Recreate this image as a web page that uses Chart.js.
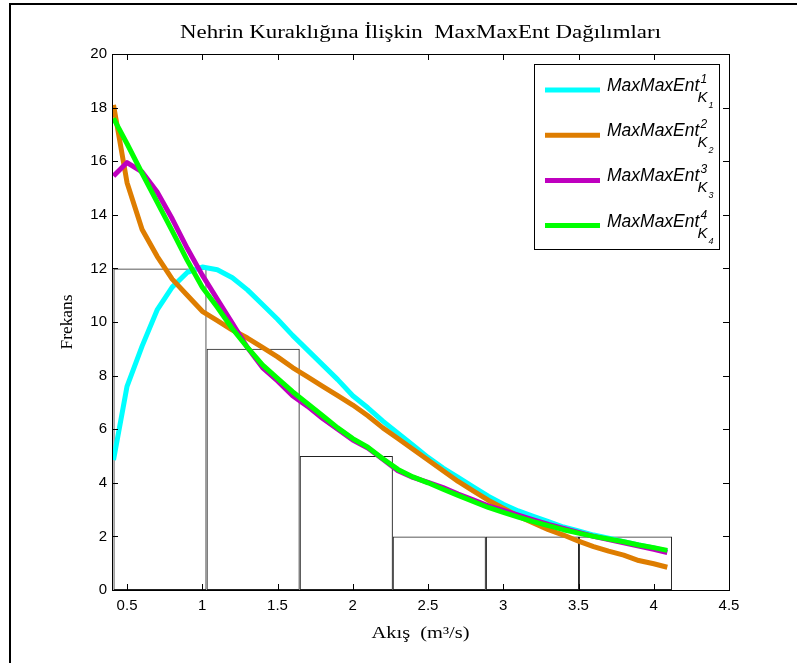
<!DOCTYPE html>
<html><head><meta charset="utf-8">
<script src="https://cdn.jsdelivr.net/npm/chart.js@4.4.0/dist/chart.umd.min.js"></script>
<style>
html,body{margin:0;padding:0;background:#fff;}
#wrap{position:relative;width:797px;height:663px;overflow:hidden;background:#fff;}
#frame{position:absolute;left:9px;top:3px;width:900px;height:800px;border-left:2px solid #000;border-top:2px solid #000;}
canvas{position:absolute;left:0;top:0;}
</style></head><body>
<div id="wrap"><div id="frame"></div><canvas id="c" width="797" height="663"></canvas></div>
<script>
// ---- data ----
const xValues = [0.41,0.5,0.6,0.7,0.8,0.9,1.0,1.1,1.2,1.3,1.4,1.5,1.6,1.7,1.8,1.9,2.0,2.1,2.2,2.3,2.4,2.5,2.6,2.7,2.8,2.9,3.0,3.1,3.2,3.3,3.4,3.5,3.6,3.7,3.8,3.9,4.0,4.09];
const k1Values = [4.85,7.6,9.1,10.45,11.3,11.85,12.05,11.95,11.65,11.2,10.65,10.1,9.5,8.95,8.4,7.85,7.25,6.8,6.3,5.85,5.4,4.95,4.55,4.2,3.85,3.5,3.2,2.95,2.75,2.55,2.35,2.2,2.05,1.93,1.8,1.68,1.57,1.45];
const k2Values = [18.1,15.2,13.45,12.45,11.6,11.0,10.4,10.05,9.7,9.4,9.05,8.7,8.3,7.95,7.6,7.25,6.9,6.5,6.05,5.65,5.25,4.85,4.45,4.05,3.7,3.35,3.05,2.75,2.5,2.25,2.05,1.82,1.62,1.45,1.3,1.1,0.98,0.85];
const k3Values = [15.45,15.95,15.6,14.85,13.85,12.75,11.75,10.85,9.95,9.05,8.3,7.8,7.25,6.85,6.4,6.0,5.6,5.3,4.88,4.45,4.2,4.02,3.82,3.58,3.36,3.14,2.97,2.79,2.62,2.45,2.3,2.15,2.0,1.88,1.76,1.64,1.52,1.4];
const k4Values = [17.6,16.65,15.55,14.47,13.4,12.3,11.3,10.55,9.75,9.05,8.4,7.9,7.4,6.95,6.5,6.05,5.65,5.33,4.9,4.5,4.22,4.0,3.76,3.53,3.3,3.08,2.9,2.72,2.55,2.4,2.25,2.12,2.0,1.9,1.8,1.68,1.58,1.48];
const binCenters = [0.719,1.338,1.957,2.575,3.194,3.812];
const binCounts = [12,9,5,2,2,2];
const xTickValues = [0.5,1,1.5,2,2.5,3,3.5,4,4.5];
const yTickValues = [0,2,4,6,8,10,12,14,16,18,20];
const seriesNames = ['MaxMaxEnt','MaxMaxEnt','MaxMaxEnt','MaxMaxEnt'];
const seriesSup = ['1','2','3','4'];
const seriesSubK = ['1','2','3','4'];
const seriesColors = ['#00FFFF','#DE7D00','#BF00BF','#00FF00'];
const chartTitle = 'Nehrin Kuraklığına İlişkin  MaxMaxEnt Dağılımları';
const xTitle = 'Akış  (m³/s)';
const yTitle = 'Frekans';

function pts(ys){ return xValues.map((x,i)=>({x:x, y:ys[i]})); }
const seriesValues = [k1Values,k2Values,k3Values,k4Values];
// bars fill a whole bin: Chart.js measures the ruler from the tick spacing, so scale to the bin width
const binFill = (binCenters[1] - binCenters[0]) / (xTickValues[1] - xTickValues[0]);

const lineSets = seriesValues.map((ys,i)=>({
  type:'line', label: seriesNames[i] + seriesSup[i], data: pts(ys),
  borderColor: seriesColors[i], backgroundColor: seriesColors[i],
  borderWidth: 5, pointRadius: 0, tension: 0, fill: false,
  borderJoinStyle: 'round', order: 4 - i
}));

function fitText(ctx, text, cx, y, font, targetW, rot){
  ctx.save();
  ctx.font = font;
  const w = ctx.measureText(text).width;
  const sx = targetW ? targetW / w : 1;
  ctx.translate(cx, y);
  if (rot) ctx.rotate(rot);
  ctx.scale(sx, 1);
  ctx.textAlign = 'center';
  ctx.fillText(text, 0, 0);
  ctx.restore();
}

const decor = {
  id: 'decor',
  afterDatasetsDraw(chart){
    const ctx = chart.ctx, a = chart.chartArea;
    const xs = chart.scales.x, ys = chart.scales.y;
    ctx.save();
    ctx.strokeStyle = '#000'; ctx.lineWidth = 1;
    ctx.strokeRect(a.left + 0.5, a.top + 0.5, a.right - a.left, a.bottom - a.top);
    const tl = 6;
    ctx.beginPath();
    xTickValues.forEach(v=>{
      const p = Math.round(xs.getPixelForValue(v)) + 0.5;
      ctx.moveTo(p, a.bottom); ctx.lineTo(p, a.bottom - tl);
      ctx.moveTo(p, a.top); ctx.lineTo(p, a.top + tl);
    });
    yTickValues.forEach(v=>{
      const p = Math.round(ys.getPixelForValue(v)) + 0.5;
      ctx.moveTo(a.left, p); ctx.lineTo(a.left + tl, p);
      ctx.moveTo(a.right, p); ctx.lineTo(a.right - tl, p);
    });
    ctx.stroke();

    // legend
    const lx1 = a.right - 10, lx0 = lx1 - 185, ly0 = a.top + 10, ly1 = ly0 + 185;
    ctx.fillStyle = '#fff';
    ctx.fillRect(lx0, ly0, lx1 - lx0, ly1 - ly0);
    ctx.strokeStyle = '#000'; ctx.lineWidth = 1;
    ctx.strokeRect(lx0 + 0.5, ly0 + 0.5, lx1 - lx0, ly1 - ly0);
    chart.data.datasets.forEach((ds, i)=>{
      if (ds.type !== 'line') return;
      const cy = ly0 + 26 + i * 45.2;
      ctx.strokeStyle = ds.borderColor; ctx.lineWidth = 5; ctx.lineCap = 'butt';
      ctx.beginPath(); ctx.moveTo(lx0 + 11, cy); ctx.lineTo(lx0 + 66, cy); ctx.stroke();
      ctx.fillStyle = '#000'; ctx.textAlign = 'left'; ctx.textBaseline = 'alphabetic';
      const tx = lx0 + 73;
      ctx.font = 'italic 17.5px "Liberation Sans"';
      ctx.fillText(seriesNames[i], tx, cy + 1);
      const w = ctx.measureText(seriesNames[i]).width;
      ctx.font = 'italic 12px "Liberation Sans"';
      ctx.fillText(seriesSup[i], tx + w + 1, cy - 7);
      ctx.font = 'italic 15px "Liberation Sans"';
      ctx.fillText('K', tx + w - 2, cy + 12);
      ctx.font = 'italic 9px "Liberation Sans"';
      ctx.fillText(seriesSubK[i], tx + w + 9, cy + 18);
    });

    // titles
    ctx.fillStyle = '#000'; ctx.textBaseline = 'alphabetic';
    const cx = (a.left + a.right) / 2;
    fitText(ctx, chartTitle, cx, a.top - 16, '18px "Liberation Serif"', 481, 0);
    fitText(ctx, xTitle, cx, a.bottom + 48, '16px "Liberation Serif"', 98, 0);
    fitText(ctx, yTitle, a.left - 40, (a.top + a.bottom) / 2, '16px "Liberation Serif"', 55, -Math.PI / 2);
    ctx.restore();
  }
};

new Chart(document.getElementById('c').getContext('2d'), {
  type: 'bar',
  data: {
    datasets: lineSets.concat([{
      type: 'bar', label: 'hist',
      data: binCenters.map((x,i)=>({x:x, y:binCounts[i]})),
      backgroundColor: 'rgba(255,255,255,0)', borderColor: '#222', borderWidth: 1,
      barPercentage: 1, categoryPercentage: binFill, borderSkipped: false, order: 10
    }])
  },
  options: {
    responsive: false, animation: false, devicePixelRatio: 1,
    layout: { padding: { left: 0, right: 68, top: 54, bottom: 0 } },
    plugins: { legend: { display: false }, tooltip: { enabled: false }, title: { display: false } },
    scales: {
      x: {
        type: 'linear', min: 0.4, max: 4.5, offset: false,
        grid: { display: false, drawTicks: false }, border: { display: false },
        afterBuildTicks: s => { s.ticks = xTickValues.map(v=>({value:v})); },
        afterFit: s => { s.height = 73; },
        ticks: { color: '#000', font: { family: 'Liberation Sans', size: 15 }, padding: 7,
                 maxRotation: 0, autoSkip: false, callback: v => String(v) }
      },
      y: {
        type: 'linear', min: 0, max: 20,
        grid: { display: false, drawTicks: false }, border: { display: false },
        afterBuildTicks: s => { s.ticks = yTickValues.map(v=>({value:v})); },
        afterFit: s => { s.width = 112; },
        ticks: { color: '#000', font: { family: 'Liberation Sans', size: 15 }, padding: 5,
                 autoSkip: false, callback: v => String(v) }
      }
    }
  },
  plugins: [decor]
});
</script>
</body></html>
